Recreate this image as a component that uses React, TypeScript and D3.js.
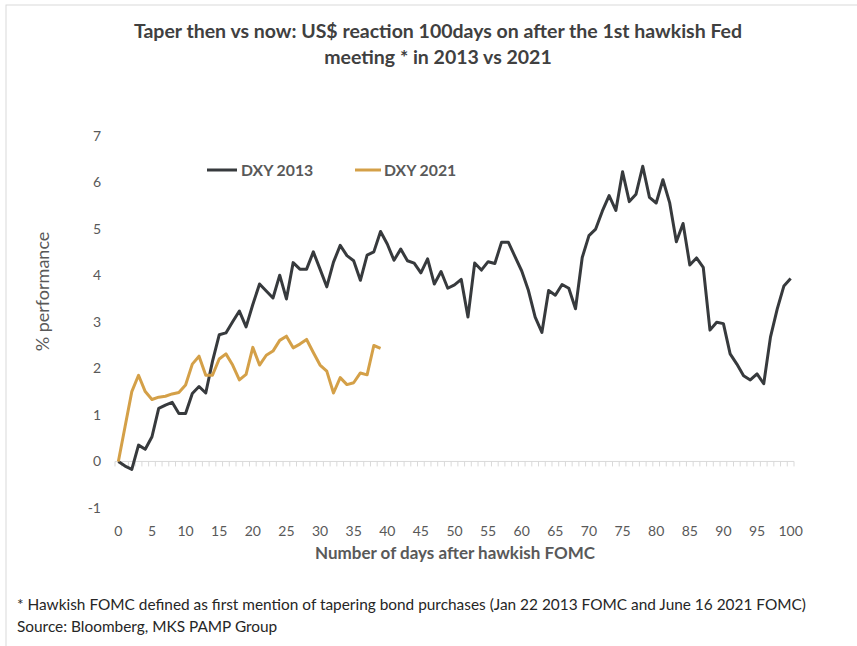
import React from "react";
import * as d3 from "d3";

// % performance of the dollar index, day 0..100 after the first hawkish FOMC
const dxy2013 = [
  0, -0.1, -0.17, 0.35, 0.26, 0.53, 1.14, 1.21, 1.27, 1.03,
  1.03, 1.46, 1.61, 1.47, 2.15, 2.72, 2.76, 3.0, 3.23, 2.89,
  3.37, 3.81, 3.66, 3.51, 4.0, 3.49, 4.27, 4.13, 4.13, 4.5,
  4.13, 3.75, 4.28, 4.64, 4.42, 4.31, 3.89, 4.43, 4.5, 4.94,
  4.67, 4.32, 4.56, 4.31, 4.26, 4.05, 4.35, 3.81, 4.08, 3.72,
  3.79, 3.91, 3.1, 4.26, 4.11, 4.29, 4.25, 4.71, 4.71, 4.4,
  4.09, 3.67, 3.1, 2.77, 3.67, 3.57, 3.8, 3.72, 3.28, 4.38,
  4.85, 4.99, 5.38, 5.71, 5.39, 6.22, 5.58, 5.74, 6.34, 5.67,
  5.55, 6.05, 5.56, 4.72, 5.11, 4.22, 4.37, 4.17, 2.82, 2.99,
  2.96, 2.31, 2.09, 1.84, 1.75, 1.88, 1.67, 2.67, 3.27, 3.77,
  3.93,
];
const dxy2021 = [
  0, 0.75, 1.5, 1.85, 1.5, 1.33, 1.38, 1.4, 1.45, 1.48,
  1.64, 2.09, 2.26, 1.85, 1.85, 2.2, 2.31, 2.07, 1.75, 1.87,
  2.45, 2.07, 2.28, 2.37, 2.6, 2.69, 2.44, 2.52, 2.62, 2.34,
  2.07, 1.94, 1.47, 1.8, 1.65, 1.69, 1.9, 1.86, 2.49, 2.43,
];
const days = d3.range(0, 101);
const yTicks = [-1, 0, 1, 2, 3, 4, 5, 6, 7];
const xLabels = d3.range(0, 101, 5);
const seriesNames = ["DXY 2013", "DXY 2021"];

const W = 857;
const H = 646;
const FONT = "Lato, 'Noto Sans', sans-serif";
const TXT = "#595959";
const C13 = "#373a3d";
const C21 = "#d4a048";

export default function App() {
  const x = d3.scalePoint<number>().domain(days).range([115, 794]).padding(0.5);
  const step = x.step();
  const y = d3.scaleLinear().domain([-1, 7]).range([508, 135.5]);

  const line = d3
    .line<number>()
    .x((_, i) => x(i) as number)
    .y((v) => y(v))
    .curve(d3.curveLinear);

  const boundaries = d3.range(0, 102).map((i) => 115 + i * step);

  return (
    <svg
      width={W}
      height={H}
      style={{ position: "absolute", left: 0, top: 0, background: "#fff" }}
      fontFamily={FONT}
    >
      <rect x={6} y={5} width={W} height={H} fill="#fff" stroke="#d9d9d9" strokeWidth={1} />

      <text x={438} y={38} textAnchor="middle" fontSize={19.5} fontWeight="bold" fill="#404040">
        Taper then vs now: US$ reaction 100days on after the 1st hawkish Fed
      </text>
      <text x={438} y={64} textAnchor="middle" fontSize={19.5} fontWeight="bold" fill="#404040">
        meeting * in 2013 vs 2021
      </text>

      {/* y tick labels */}
      {yTicks.map((t) => (
        <text key={t} x={101} y={y(t) + 5} textAnchor="end" fontSize={14} fill={TXT}>
          {t}
        </text>
      ))}
      <text
        transform={`translate(49,${y(3.65)}) rotate(-90)`}
        textAnchor="middle"
        fontSize={18}
        fill={TXT}
      >
        % performance
      </text>

      {/* x axis at zero with category ticks */}
      <line x1={115} x2={794} y1={y(0)} y2={y(0)} stroke="#d9d9d9" strokeWidth={1} />
      {boundaries.map((bx, i) => (
        <line key={i} x1={bx} x2={bx} y1={y(0)} y2={y(0) + 5} stroke="#d9d9d9" strokeWidth={1} />
      ))}
      {xLabels.map((d) => (
        <text key={d} x={x(d)} y={536} textAnchor="middle" fontSize={14} fill={TXT}>
          {d}
        </text>
      ))}
      <text x={455} y={559} textAnchor="middle" fontSize={17} fontWeight="bold" fill={TXT}>
        Number of days after hawkish FOMC
      </text>

      <path d={line(dxy2013) || ""} fill="none" stroke={C13} strokeWidth={3} strokeLinejoin="round" />
      <path d={line(dxy2021) || ""} fill="none" stroke={C21} strokeWidth={3} strokeLinejoin="round" />

      {/* legend */}
      <line x1={207} x2={237} y1={170} y2={170} stroke={C13} strokeWidth={3} />
      <text x={241} y={175.5} fontSize={15.8} fontWeight="bold" fill={TXT}>
        {seriesNames[0]}
      </text>
      <line x1={355} x2={381} y1={170} y2={170} stroke={C21} strokeWidth={3} />
      <text x={384} y={175.5} fontSize={15.8} fontWeight="bold" fill={TXT}>
        {seriesNames[1]}
      </text>

      <text x={17} y={610} fontSize={15.4} fill="#262626">
        * Hawkish FOMC defined as first mention of tapering bond purchases (Jan 22 2013 FOMC and June 16 2021 FOMC)
      </text>
      <text x={17} y={632} fontSize={15.4} fill="#262626">
        Source: Bloomberg, MKS PAMP Group
      </text>
    </svg>
  );
}
